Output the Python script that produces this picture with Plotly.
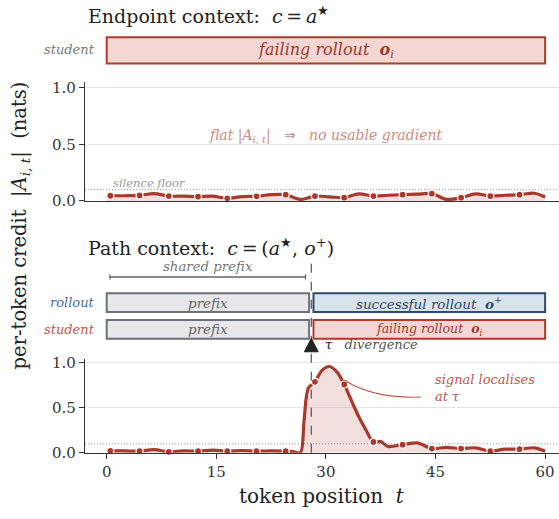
import plotly.graph_objects as go

# ---------------- data ----------------
T_TOP = [0, 0.5, 2.5, 4.5, 6.5, 8.5, 10.5, 12.5, 14.5, 16.5, 18.5, 20.5, 22.5, 24.5, 26.5,
         28.5, 30.5, 32.5, 34.5, 36.5, 38.5, 40.5, 42.5, 44.5, 46.5, 48.5, 50.5, 52.5,
         54.5, 56.5, 58.5, 60]
A_TOP = [0.045, 0.046, 0.046, 0.049, 0.065, 0.043, 0.042, 0.038, 0.042, 0.023, 0.038, 0.041,
         0.055, 0.055, 0.014, 0.043, 0.036, 0.029, 0.062, 0.043, 0.050, 0.055, 0.060, 0.064,
         0.014, 0.029, 0.062, 0.043, 0.050, 0.055, 0.068, 0.035]

T_BOT = [0, 0.5, 2.5, 4.5, 6.5, 8.5, 10.5, 12.5, 14.5, 16.5, 18.5, 20.5, 22.5, 24.5, 25.5,
         26.5, 27.0, 27.6, 28.5, 29.5, 30.5, 31.5, 32.5, 33.5, 34.5, 35.5, 36.5, 37.5, 38.5,
         40.5, 42.5, 44.5, 46.5, 48.5, 50.5, 52.5, 54.5, 56.5, 58.5, 60]
A_BOT = [0.020, 0.022, 0.020, 0.018, 0.035, 0.011, 0.022, 0.018, 0.030, 0.018, 0.025, 0.018,
         0.022, 0.018, 0.012, 0.0, 0.35, 0.72, 0.79, 0.92, 0.96, 0.90, 0.76, 0.58, 0.40, 0.25,
         0.12, 0.125, 0.07, 0.09, 0.11, 0.047, 0.06, 0.047, 0.055, 0.018, 0.04, 0.04, 0.055,
         0.018]

MARKER_T = [0.5, 4.5, 8.5, 12.5, 16.5, 20.5, 24.5, 28.5, 32.5, 36.5, 40.5, 44.5, 48.5, 52.5, 56.5]
X_TICKS = [0, 15, 30, 45, 60]
Y_TICKS = [0.0, 0.5, 1.0]
Y_TICKTEXT = ["0.0", "0.5", "1.0"]
TAU = 28
N_TOKENS = 60
SILENCE_FLOOR = 0.1

# ---------------- style ----------------
RED = "#A8392D"
FILL = "rgba(176,58,46,0.16)"
FONT = "DejaVu Serif"
X_RANGE = [-2.97, 61.9]
Y_RANGE = [0, 1.048]

TOP_DOM = [0.6108, 0.8455]
BOT_DOM = [0.1131, 0.2992]

fig = go.Figure()


def add_series(t, a, xa, ya):
    fig.add_trace(go.Scatter(x=t, y=a, mode="lines", xaxis=xa, yaxis=ya,
                             line=dict(color=RED, width=3.2, shape="spline", smoothing=0.9),
                             fill="tozeroy", fillcolor=FILL, hoverinfo="skip", showlegend=False))
    lookup = dict(zip(t, a))
    fig.add_trace(go.Scatter(x=MARKER_T, y=[lookup[m] for m in MARKER_T], mode="markers",
                             xaxis=xa, yaxis=ya, cliponaxis=False,
                             marker=dict(color=RED, size=7, line=dict(color="white", width=1.2)),
                             hoverinfo="skip", showlegend=False))


add_series(T_TOP, A_TOP, "x", "y")
add_series(T_BOT, A_BOT, "x2", "y2")

axis_common = dict(range=X_RANGE, showgrid=False, zeroline=False, showline=True,
                   linecolor="#333", linewidth=1.4)
yaxis_common = dict(range=Y_RANGE, tickvals=Y_TICKS, ticktext=Y_TICKTEXT, showgrid=True,
                    gridcolor="#e6e6e6", gridwidth=1, zeroline=False, showline=True,
                    linecolor="#333", linewidth=1.4, ticks="outside", ticklen=5,
                    tickcolor="#333", tickfont=dict(family=FONT, size=15, color="#333"))

fig.update_layout(
    width=559, height=519,
    margin=dict(l=85, r=0, t=0, b=0),
    paper_bgcolor="white", plot_bgcolor="white",
    xaxis=dict(domain=[0, 1], anchor="y", showticklabels=False, ticks="", **axis_common),
    yaxis=dict(domain=TOP_DOM, anchor="x", **yaxis_common),
    xaxis2=dict(domain=[0, 1], anchor="y2", tickvals=X_TICKS, ticks="outside", ticklen=5,
                tickcolor="#333", tickfont=dict(family=FONT, size=15, color="#333"),
                **axis_common),
    yaxis2=dict(domain=BOT_DOM, anchor="x2", **yaxis_common),
)

shapes = []
for yr in ("y", "y2"):
    shapes.append(dict(type="line", xref="paper", yref=yr, x0=0, x1=1,
                       y0=SILENCE_FLOOR, y1=SILENCE_FLOOR,
                       line=dict(color="#9a9a9a", width=1, dash="1px,2px"), layer="below"))

shapes.append(dict(type="line", xref="x", yref="paper", x0=TAU, x1=TAU,
                   y0=BOT_DOM[0], y1=0.4933, line=dict(color="#555", width=1.2, dash="dash")))

GAP = 0.3
GRAY_FILL, GRAY_LINE = "#e8e8ea", "#6d7178"
BLUE_FILL, BLUE_LINE = "#d9e3ec", "#2c4a6e"
RED_FILL, RED_LINE = "#f4d6d2", "#b03a2e"


def bar(x0, x1, y0, y1, fillc, linec):
    shapes.append(dict(type="rect", xref="x", yref="paper", x0=x0, x1=x1, y0=y0, y1=y1,
                       fillcolor=fillc, line=dict(color=linec, width=2)))


bar(0, N_TOKENS, 0.8825, 0.9345, RED_FILL, RED_LINE)
ROLL = (0.3911, 0.4283)
STUD = (0.3385, 0.3757)
bar(0, TAU - GAP, ROLL[0], ROLL[1], GRAY_FILL, GRAY_LINE)
bar(TAU + GAP, N_TOKENS, ROLL[0], ROLL[1], BLUE_FILL, BLUE_LINE)
bar(0, TAU - GAP, STUD[0], STUD[1], GRAY_FILL, GRAY_LINE)
bar(TAU + GAP, N_TOKENS, STUD[0], STUD[1], RED_FILL, RED_LINE)

BR_Y = 0.4605
shapes.append(dict(type="line", xref="x", yref="paper", x0=0.45, x1=TAU - 0.8, y0=BR_Y, y1=BR_Y,
                   line=dict(color="#666", width=1.3)))
for xe in (0.45, TAU - 0.8):
    shapes.append(dict(type="line", xref="x", yref="paper", x0=xe, x1=xe, y0=BR_Y - 0.005,
                       y1=BR_Y + 0.005, line=dict(color="#666", width=1.3)))

shapes.append(dict(type="path", xref="x", yref="paper",
                   path=f"M {TAU-0.95},0.3127 L {TAU+0.95},0.3127 L {TAU},0.3391 Z",
                   fillcolor="#222", line=dict(color="#222", width=1)))

shapes.append(dict(type="path", xref="x2", yref="y2",
                   path="M 43.0,0.62 Q 36.5,0.60 32.5,0.81",
                   line=dict(color="#c0564b", width=1.1)))

fig.update_layout(shapes=shapes)

ann = []


def txt(text, x, y, xref="paper", yref="paper", size=13, color="#333", xanchor="center",
        yanchor="middle", **kw):
    ann.append(dict(text=text, x=x, y=y, xref=xref, yref=yref, showarrow=False,
                    xanchor=xanchor, yanchor=yanchor,
                    font=dict(family=FONT, size=size, color=color), **kw))


txt("Endpoint context:  <i>c</i>\u2009=\u2009<i>a</i><sup>★</sup>", 0.002, 0.979,
    size=19, color="#222", xanchor="left")
txt("Path context:  <i>c</i>\u2009=\u2009(<i>a</i><sup>★</sup>, <i>o</i><sup>+</sup>)", 0.002,
    0.519, size=19, color="#222", xanchor="left")

txt("<i>student</i>", -1.3, 0.9094, xref="x", size=13, color="#777", xanchor="right")
txt("<i>rollout</i>", -1.3, 0.4104, xref="x", size=13, color="#4a6a9a", xanchor="right")
txt("<i>student</i>", -1.3, 0.3565, xref="x", size=13, color="#c0564b", xanchor="right")

txt("<i>failing rollout</i>  <b><i>o</i></b><sub><i>i</i></sub>", N_TOKENS / 2, 0.9085,
    xref="x", size=16, color="#9a3a30")
txt("<i>prefix</i>", (TAU - GAP) / 2, 0.4097, xref="x", size=13.5, color="#666")
txt("<i>prefix</i>", (TAU - GAP) / 2, 0.3571, xref="x", size=13.5, color="#666")
txt("<i>successful rollout</i>  <b><i>o</i></b><sup>+</sup>", (TAU + GAP + N_TOKENS) / 2,
    0.4097, xref="x", size=13.5, color="#34466a")
txt("<i>failing rollout</i>  <b><i>o</i></b><sub><i>i</i></sub>", (TAU + GAP + N_TOKENS) / 2,
    0.3571, xref="x", size=12.5, color="#9a3a30")

txt("<i>shared prefix</i>", (TAU - GAP) / 2, 0.481, xref="x", size=13.3, color="#777")
txt("<i>τ</i>   <i><span style='color:#555'>divergence</span></i>", TAU + 1.6, 0.3276,
    xref="x", size=13, color="#222", xanchor="left")

txt("<i>silence floor</i>", 0.65, 0.158, xref="x", yref="y", size=11.5, color="#9a9a9a",
    xanchor="left")
txt("<i>flat</i> |<i>A</i><sub><i>i, t</i></sub>|   <span style='font-family:DejaVu Sans'>⇒</span>   <i>no usable gradient</i>",
    30, 0.57, xref="x", yref="y", size=14, color="#d08a80")
txt("<i>signal localises</i><br><i>at τ</i>", 44.6, 0.72, xref="x2", yref="y2", size=13,
    color="#c0564b", xanchor="left", align="left")

txt("per-token credit  |<i>A</i><sub><i>i, t</i></sub>|  (nats)", -0.137, 0.5626, size=19.5,
    color="#222", textangle=-90)
txt("token position  <i>t</i>", 0.5, 0.027, size=20, color="#222")

fig.update_layout(annotations=ann)

fig.write_html("out.html")
